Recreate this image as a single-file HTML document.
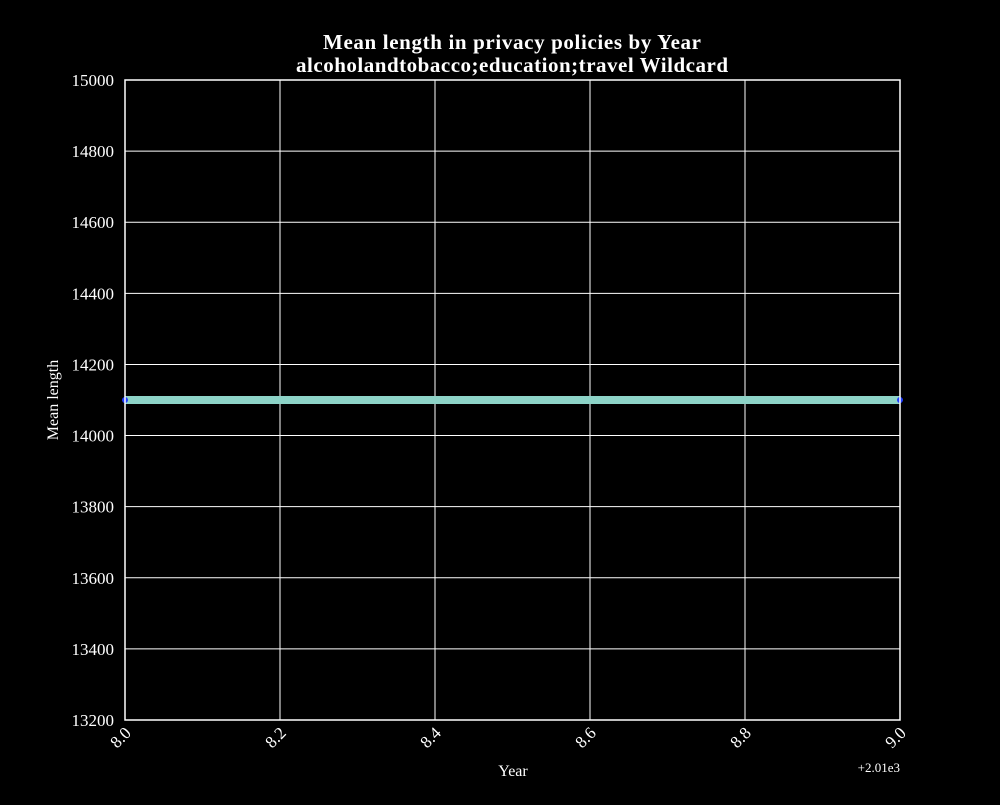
<!DOCTYPE html>
<html><head><meta charset="utf-8"><style>
html,body{margin:0;padding:0;background:#000;}
svg text{font-family:"Liberation Serif",serif;fill:#fff;}
</style></head><body>
<svg id="chart" width="1000" height="800" xmlns="http://www.w3.org/2000/svg">
<rect width="1000" height="800" fill="#000"/>
<text x="512" y="49" font-size="21" font-weight="bold" text-anchor="middle" textLength="378">Mean length in privacy policies by Year</text>
<text x="512" y="72" font-size="21" font-weight="bold" text-anchor="middle" textLength="432">alcoholandtobacco;education;travel Wildcard</text>
<g id="grid"></g>
<g id="series"></g>
<rect x="125" y="80" width="775" height="640" fill="none" stroke="#fff" stroke-width="1.5"/>
<g id="ticks"></g>
<text x="513" y="776" font-size="16" text-anchor="middle">Year</text>
<text transform="translate(58,400) rotate(-90)" font-size="16" text-anchor="middle">Mean length</text>
<text x="900" y="772" font-size="13" text-anchor="end">+2.01e3</text>
</svg>
<script>
const years = [8.0, 9.0];
const meanLength = [14100, 14100];
const xTicks = [8.0, 8.2, 8.4, 8.6, 8.8, 9.0];
const yTicks = [13200, 13400, 13600, 13800, 14000, 14200, 14400, 14600, 14800, 15000];
const NS = 'http://www.w3.org/2000/svg';
const L = 125, R = 900, T = 80, B = 720;
const xMin = 8.0, xMax = 9.0, yMin = 13200, yMax = 15000;
const xs = v => L + (v - xMin) / (xMax - xMin) * (R - L);
const ys = v => B - (v - yMin) / (yMax - yMin) * (B - T);
function mk(tag, attrs, parent) {
  const e = document.createElementNS(NS, tag);
  for (const k in attrs) e.setAttribute(k, attrs[k]);
  parent.appendChild(e);
  return e;
}
const grid = document.getElementById('grid');
const ticks = document.getElementById('ticks');
const series = document.getElementById('series');
xTicks.forEach(t => {
  const x = xs(t);
  const g = mk('line', {x1: x, x2: x, y1: T, y2: B, stroke: '#fff', 'stroke-width': 1}, grid);
  
  
  const tx = mk('text', {x: x + 7, y: B + 14, 'font-size': 17, 'text-anchor': 'end', transform: `rotate(-45 ${x + 7} ${B + 14})`}, ticks);
  tx.textContent = t.toFixed(1);
  
  
});
yTicks.forEach(t => {
  const y = ys(t);
  const g = mk('line', {x1: L, x2: R, y1: y, y2: y, stroke: '#fff', 'stroke-width': 1}, grid);
  
  
  const tx = mk('text', {x: L - 11, y: y + 6, 'font-size': 17, 'text-anchor': 'end'}, ticks);
  tx.textContent = t;
  
  
});
const pts = years.map((v, i) => xs(v) + ',' + ys(meanLength[i])).join(' ');
const line = mk('polyline', {points: pts, fill: 'none', stroke: '#8dd3c7', 'stroke-width': 8}, series);


years.forEach((v, i) => {
  const c = mk('circle', {cx: xs(v), cy: ys(meanLength[i]), r: 3, fill: '#1f3cff'}, series);
  
  
});
</script>
</body></html>
